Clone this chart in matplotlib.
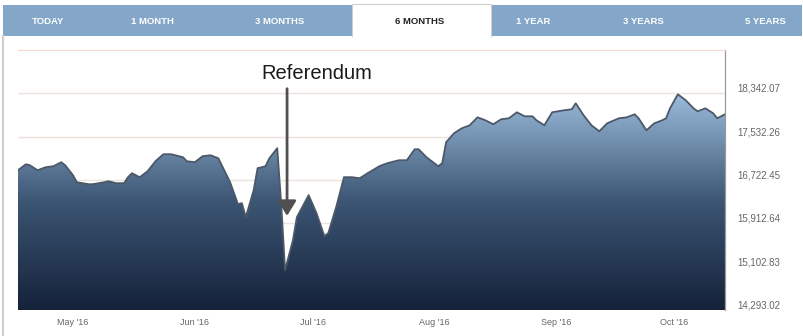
import numpy as np
import pandas as pd
import matplotlib
matplotlib.use("Agg")
import matplotlib.pyplot as plt
import matplotlib.dates as mdates
import matplotlib.transforms as mtransforms
from matplotlib.colors import LinearSegmentedColormap
from matplotlib.patches import Rectangle

# index values (Apr - Oct 2016)
dates = ["2016-04-17", "2016-04-19", "2016-04-20", "2016-04-22", "2016-04-24", "2016-04-26",
         "2016-04-28", "2016-04-29", "2016-05-01", "2016-05-02", "2016-05-05", "2016-05-06",
         "2016-05-09", "2016-05-10", "2016-05-12", "2016-05-14", "2016-05-15", "2016-05-16",
         "2016-05-18", "2016-05-20", "2016-05-22", "2016-05-24", "2016-05-26", "2016-05-29",
         "2016-05-30", "2016-06-01", "2016-06-03", "2016-06-05", "2016-06-07", "2016-06-10",
         "2016-06-12", "2016-06-13", "2016-06-14", "2016-06-16", "2016-06-17", "2016-06-19",
         "2016-06-20", "2016-06-22", "2016-06-23", "2016-06-24", "2016-06-26", "2016-06-27",
         "2016-06-30", "2016-07-02", "2016-07-04", "2016-07-05", "2016-07-07", "2016-07-09",
         "2016-07-11", "2016-07-13", "2016-07-15", "2016-07-18", "2016-07-20", "2016-07-23",
         "2016-07-25", "2016-07-27", "2016-07-28", "2016-07-30", "2016-08-02", "2016-08-03",
         "2016-08-04", "2016-08-06", "2016-08-08", "2016-08-10", "2016-08-12", "2016-08-14",
         "2016-08-16", "2016-08-18", "2016-08-20", "2016-08-22", "2016-08-24", "2016-08-26",
         "2016-08-27", "2016-08-29", "2016-08-31", "2016-09-03", "2016-09-05", "2016-09-06",
         "2016-09-08", "2016-09-10", "2016-09-12", "2016-09-14", "2016-09-17", "2016-09-19",
         "2016-09-21", "2016-09-22", "2016-09-24", "2016-09-26", "2016-09-28", "2016-09-29",
         "2016-09-30", "2016-10-02", "2016-10-04", "2016-10-06", "2016-10-07", "2016-10-09",
         "2016-10-11", "2016-10-12", "2016-10-14"]
values = [16905, 17017, 16999, 16905, 16961, 16980,
          17055, 16999, 16812, 16681, 16644, 16644,
          16681, 16700, 16663, 16663, 16775, 16849,
          16775, 16887, 17073, 17204, 17204, 17148,
          17073, 17055, 17167, 17185, 17129, 16681,
          16271, 16290, 16028, 16532, 16943, 16980,
          17129, 17316, 16290, 15039, 15599, 16028,
          16439, 16103, 15674, 15730, 16215, 16775,
          16775, 16756, 16849, 16980, 17036, 17092,
          17092, 17297, 17297, 17148, 16980, 17036,
          17428, 17596, 17689, 17745, 17894, 17838,
          17764, 17857, 17876, 17988, 17913, 17913,
          17838, 17745, 17988, 18025, 18044, 18156,
          17932, 17745, 17633, 17782, 17876, 17894,
          17950, 17876, 17652, 17782, 17838, 17876,
          18062, 18324, 18212, 18062, 18006, 18062,
          17969, 17876, 17950]

y_ticks = [14293.02, 15102.83, 15912.64, 16722.45, 17532.26, 18342.07]
x_ticks = ["2016-05-01", "2016-06-01", "2016-07-01", "2016-08-01", "2016-09-01", "2016-10-01"]
tabs = ["TODAY", "1 MONTH", "3 MONTHS", "6 MONTHS", "1 YEAR", "3 YEARS", "5 YEARS"]
tab_centers = [48, 152, 280, 420, 533, 643, 765]
active_tab = "6 MONTHS"

x = pd.to_datetime(dates)
y = np.array(values, dtype=float)

plt.rcParams['font.family'] = ['Liberation Sans', 'DejaVu Sans']

W, H = 804, 336
fig = plt.figure(figsize=(W / 100, H / 100), dpi=100)
fig.patch.set_facecolor("white")

# tab bar drawn in pixel coords of the figure
bg = fig.add_axes([0, 0, 1, 1])
bg.set_xlim(0, W)
bg.set_ylim(H, 0)
bg.axis("off")
bg.add_patch(Rectangle((3, 5), W - 5, 31, facecolor="#84a6c9", edgecolor="none"))
bg.add_patch(Rectangle((352, 4), 139, 34, facecolor="white", edgecolor="none"))
bg.plot([352, 352, 491, 491], [36, 4, 4, 36], color="#d0d0d0", lw=0.8)
bg.plot([3, 3], [36, 336], color="#cfcfcf", lw=1.5)
for name, cx in zip(tabs, tab_centers):
    col = "#222222" if name == active_tab else "white"
    bg.text(cx, 21, name, ha="center", va="center", fontsize=6.8,
            fontweight="bold", color=col)

# main chart
ymin, ymax = 14293.02, 19151.88
ax = fig.add_axes([18 / W, 1 - 310 / H, (725 - 18) / W, (310 - 50) / H])

# gradient area
cmap = LinearSegmentedColormap.from_list("area", ["#15223a", "#3b5573", "#9bbbdb"])
grad = np.linspace(0, 1, 256).reshape(-1, 1)
x0, x1 = mdates.date2num(x[0]), mdates.date2num(x[-1])
img = ax.imshow(grad, cmap=cmap, origin="lower", aspect="auto",
                extent=[x0, x1, ymin, y.max()], zorder=1)
poly = ax.fill_between(x, y, ymin, facecolor="none", edgecolor="none")
img.set_clip_path(poly.get_paths()[0], transform=ax.transData)
ax.plot(x, y, color="#4c5868", lw=1.3, zorder=3)
ax.set_xlim(pd.Timestamp("2016-04-17"), pd.Timestamp("2016-10-14"))
ax.set_ylim(ymin, ymax)

for v in y_ticks[1:]:
    ax.axhline(v, color="#ece3de", lw=1, zorder=0)

for side in ["left", "bottom"]:
    ax.spines[side].set_visible(False)
ax.spines["top"].set_color("#f3d9cc")
ax.spines["right"].set_color("#9a9a9a")
ax.spines["right"].set_linewidth(0.9)

ax.yaxis.tick_right()
ax.set_yticks(y_ticks)
ax.set_yticklabels([f"{v:,.2f}" for v in y_ticks])
ax.tick_params(axis="y", length=0, pad=9, labelsize=7, labelcolor="#666666")
offset = mtransforms.ScaledTranslation(0, 4 / 72, fig.dpi_scale_trans)
for lab in ax.get_yticklabels():
    lab.set_transform(lab.get_transform() + offset)

ax.set_xticks(pd.to_datetime(x_ticks))
ax.xaxis.set_major_formatter(mdates.DateFormatter("%b '%y"))
ax.tick_params(axis="x", length=0, pad=6, labelsize=6.5, labelcolor="#666666")

# referendum annotation
ax.annotate("", xy=(pd.Timestamp("2016-06-24 12:00"), 16000),
            xytext=(pd.Timestamp("2016-06-24 12:00"), 18480),
            arrowprops=dict(arrowstyle="-|>,head_width=0.55,head_length=0.9",
                            color="#505050", lw=2), zorder=5)
ax.text(pd.Timestamp("2016-07-02"), 18720, "Referendum", ha="center", va="center",
        fontsize=14.5, color="#1a1a1a", zorder=5)

fig.savefig("out.png", dpi=100, facecolor="white")
